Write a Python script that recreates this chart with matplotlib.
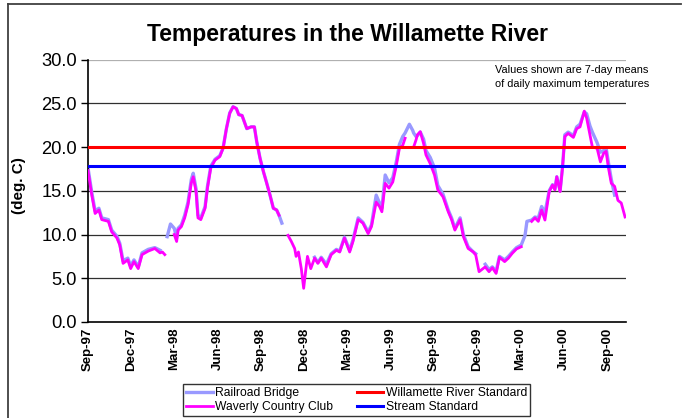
import numpy as np
import pandas as pd
import matplotlib
matplotlib.use('Agg')
import matplotlib.pyplot as plt
import matplotlib.dates as mdates
from matplotlib.lines import Line2D

plt.rcParams['font.family'] = ['Liberation Sans', 'DejaVu Sans']

# 7-day means of daily maximum temperatures (deg. C)
dates = [
    '1997-09-01', '1997-09-09', '1997-09-16', '1997-09-24', '1997-09-30', '1997-10-14',
    '1997-10-21', '1997-11-01', '1997-11-07', '1997-11-14', '1997-11-24', '1997-11-30',
    '1997-12-07', '1997-12-16', '1997-12-24', '1998-01-06', '1998-01-20', '1998-01-31',
    '1998-02-05', '1998-02-10', '1998-02-15', '1998-02-22', '1998-03-02', '1998-03-07',
    '1998-03-10', '1998-03-17', '1998-03-24', '1998-03-31', '1998-04-07', '1998-04-11',
    '1998-04-17', '1998-04-21', '1998-04-27', '1998-05-06', '1998-05-11', '1998-05-18',
    '1998-05-27', '1998-06-06', '1998-06-13', '1998-06-20', '1998-06-27', '1998-07-04',
    '1998-07-11', '1998-07-16', '1998-07-23', '1998-08-02', '1998-08-11', '1998-08-18',
    '1998-08-23', '1998-08-30', '1998-09-06', '1998-09-13', '1998-09-20', '1998-09-27',
    '1998-10-04', '1998-10-09', '1998-10-15', '1998-10-28', '1998-11-04', '1998-11-11',
    '1998-11-14', '1998-11-19', '1998-11-25', '1998-11-30', '1998-12-04', '1998-12-08',
    '1998-12-15', '1998-12-23', '1998-12-30', '1999-01-06', '1999-01-17', '1999-01-27',
    '1999-02-07', '1999-02-14', '1999-02-24', '1999-03-07', '1999-03-14', '1999-03-25',
    '1999-04-04', '1999-04-15', '1999-04-22', '1999-05-02', '1999-05-09', '1999-05-14',
    '1999-05-21', '1999-05-29', '1999-06-06', '1999-06-13', '1999-06-20', '1999-06-27',
    '1999-07-02', '1999-07-11', '1999-07-18', '1999-07-20', '1999-07-25', '1999-07-28',
    '1999-08-03', '1999-08-10', '1999-08-15', '1999-08-24', '1999-09-02', '1999-09-09',
    '1999-09-20', '1999-10-01', '1999-10-08', '1999-10-15', '1999-10-26', '1999-11-02',
    '1999-11-12', '1999-11-23', '1999-11-28', '1999-12-05', '1999-12-18', '1999-12-26',
    '2000-01-02', '2000-01-10', '2000-01-17', '2000-01-28', '2000-02-05', '2000-02-13',
    '2000-02-22', '2000-03-03', '2000-03-11', '2000-03-15', '2000-03-25', '2000-04-01',
    '2000-04-08', '2000-04-15', '2000-04-22', '2000-05-01', '2000-05-08', '2000-05-13',
    '2000-05-17', '2000-05-24', '2000-05-29', '2000-06-03', '2000-06-10', '2000-06-21',
    '2000-06-28', '2000-07-05', '2000-07-14', '2000-07-19', '2000-07-26', '2000-07-31',
    '2000-08-10', '2000-08-17', '2000-08-24', '2000-08-29', '2000-09-03', '2000-09-09',
    '2000-09-16', '2000-09-23', '2000-09-30', '2000-10-08',
]

nan = np.nan
railroad = [
    17.6, 14.8, 12.7, 13.0, 11.9, 11.7, 10.5, 9.8, 9.0, 7.0, 7.3, 6.4,
    7.1, 6.3, 7.9, 8.3, 8.5, 8.2, nan, nan, 9.75, 11.2, 10.7, 9.6,
    10.7, 11.1, 12.2, 13.7, 16.3, 17.0, 15.2, 12.2, 11.9, 13.2, 15.5, 17.8,
    18.6, 19.0, 19.9, 22.1, 23.9, 24.6, 24.4, 23.7, 23.6, 22.1, 22.3, 22.3,
    20.6, 18.7, 17.2, 15.9, 14.5, 13.0, 12.8, 12.2, 11.3, nan, nan, nan,
    nan, nan, nan, nan, nan, nan, nan, 7.4, 6.8, 7.4, 6.6, 7.8,
    8.3, 8.1, 9.7, 8.2, 9.4, 11.9, 11.4, 10.3, 11.1, 14.5, 13.6, 13.0,
    16.8, 15.9, 16.5, 18.2, 20.3, 21.2, 21.6, 22.6, 21.9, 21.6, 21.2, 21.3,
    21.7, 20.9, 19.6, 18.8, 17.6, 15.6, 14.6, 12.8, 11.9, 10.7, 11.9, 10.0,
    8.6, 8.0, 7.8, nan, 6.6, 6.0, 6.3, 5.8, 7.5, 7.1, 7.5, 8.0,
    8.5, 8.8, 9.9, 11.5, 11.65, 12.0, 11.9, 13.2, 12.5, 15.0, 15.7, 15.2,
    16.6, 15.0, 17.7, 21.4, 21.7, 21.3, 22.3, 22.6, 24.0, 23.8, 22.4, 21.7,
    20.5, 19.4, 19.6, 19.9, 18.2, 16.3, 14.5, nan, nan, nan,
]
waverly = [
    17.3, 14.5, 12.4, 12.8, 11.7, 11.5, 10.3, 9.6, 8.8, 6.7, 7.1, 6.1,
    6.9, 6.1, 7.7, 8.1, 8.4, 7.9, 8.0, 7.7, nan, nan, 10.0, 9.2,
    10.5, 10.9, 11.9, 13.4, 15.9, 16.6, 14.9, 11.9, 11.7, 13.0, 15.3, 17.6,
    18.5, 18.9, 19.85, 22.1, 23.85, 24.6, 24.4, 23.7, 23.6, 22.1, 22.3, 22.3,
    20.6, 18.7, 17.2, 15.85, 14.5, 13.0, 12.8, 12.2, nan, 9.9, 9.2, 8.4,
    7.5, 8.0, 6.1, 3.85, 5.75, 7.5, 6.1, 7.3, 6.7, 7.3, 6.3, 7.7,
    8.2, 8.0, 9.6, 8.0, 9.2, 11.7, 11.3, 10.1, 10.9, 13.7, 13.2, 12.6,
    15.85, 15.3, 16.0, 17.75, 19.85, 20.2, 21.0, nan, nan, 20.0, 20.8, 21.4,
    21.75, 20.4, 19.1, 18.1, 16.8, 15.1, 14.3, 12.6, 11.7, 10.5, 11.7, 9.75,
    8.4, 8.0, 7.65, 5.75, 6.3, 5.75, 6.2, 5.55, 7.4, 6.9, 7.3, 7.85,
    8.35, 8.6, nan, nan, 11.5, 11.9, 11.5, 12.8, 11.65, 14.9, 15.65, 15.1,
    16.6, 14.9, 17.6, 21.2, 21.55, 21.1, 22.1, 22.3, 24.1, 23.3, 21.4, 20.0,
    19.85, 18.3, 19.3, 19.5, 17.6, 15.85, 15.5, 13.9, 13.6, 12.0,
]

river_standard = 20.0
stream_standard = 17.8

y_ticks = [0, 5, 10, 15, 20, 25, 30]
x_ticks = ['1997-09-01', '1997-12-01', '1998-03-01', '1998-06-01', '1998-09-01',
           '1998-12-01', '1999-03-01', '1999-06-01', '1999-09-01', '1999-12-01',
           '2000-03-01', '2000-06-01', '2000-09-01']

x = pd.to_datetime(dates)

fig = plt.figure(figsize=(6.85, 4.18), dpi=100)
# chart area border, only top and left edges are inside the picture
fig.add_artist(Line2D([8 / 685, 681 / 685], [1 - 4 / 418] * 2, transform=fig.transFigure,
                      color='#404040', lw=1.3))
fig.add_artist(Line2D([8 / 685] * 2, [0, 1 - 4 / 418], transform=fig.transFigure,
                      color='#404040', lw=1.3))

ax = fig.add_axes([88 / 685, 1 - 322 / 418, (626 - 88) / 685, (322 - 59.5) / 418])

for y in y_ticks[1:]:
    ax.axhline(y, color='#b0b0b0' if y == 30 else '#303030', lw=0.9, zorder=1)

l1, = ax.plot(x, railroad, color='#9999ff', lw=2.4, label='Railroad Bridge', zorder=2)
l2, = ax.plot(x, waverly, color='#ff00ff', lw=2.0, label='Waverly Country Club', zorder=3)
l3 = ax.axhline(river_standard, color='#ff0000', lw=2.2, label='Willamette River Standard', zorder=4)
l4 = ax.axhline(stream_standard, color='#0000ff', lw=2.2, label='Stream Standard', zorder=4)

ax.set_ylim(0, 30)
ax.set_xlim(pd.Timestamp('1997-09-01'), pd.Timestamp('2000-10-10'))
ax.set_yticks(y_ticks)
ax.set_yticklabels([f'{v:.1f}' for v in y_ticks], fontsize=13.2)
ax.set_xticks(pd.to_datetime(x_ticks))
ax.xaxis.set_major_formatter(mdates.DateFormatter('%b-%y'))
for lab in ax.get_xticklabels():
    lab.set_rotation(90)
    lab.set_fontweight('bold')
    lab.set_fontsize(9.5)
ax.tick_params(axis='x', length=0, pad=4)
ax.tick_params(axis='y', length=5, width=1, direction='out', pad=3)
for side in ['top', 'right']:
    ax.spines[side].set_visible(False)
ax.spines['left'].set_linewidth(1.2)
ax.spines['bottom'].set_linewidth(1.2)

ax.set_ylabel('(deg. C)', fontsize=11, fontweight='bold')
ax.yaxis.set_label_coords(-62 / 538, 0.52)

fig.text(348 / 685, 1 - 34 / 418, 'Temperatures in the Willamette River',
         ha='center', va='center', fontsize=16.5, fontweight='bold')
fig.text(495 / 685, 1 - 77 / 418, 'Values shown are 7-day means\nof daily maximum temperatures',
         ha='left', va='center', fontsize=7.9, linespacing=1.55)

leg = fig.legend(handles=[l1, l2, l3, l4], ncol=2, loc='lower left',
                 bbox_to_anchor=(183 / 685, 2 / 418, 347 / 685, 32 / 418),
                 mode='expand', fontsize=8.7, frameon=True, fancybox=False,
                 handlelength=2.2, handletextpad=0.2, borderpad=0.25,
                 labelspacing=0.15, columnspacing=1.0, borderaxespad=0)
leg.get_frame().set_edgecolor('black')
leg.get_frame().set_linewidth(1.0)

fig.savefig('out.png', dpi=100)
